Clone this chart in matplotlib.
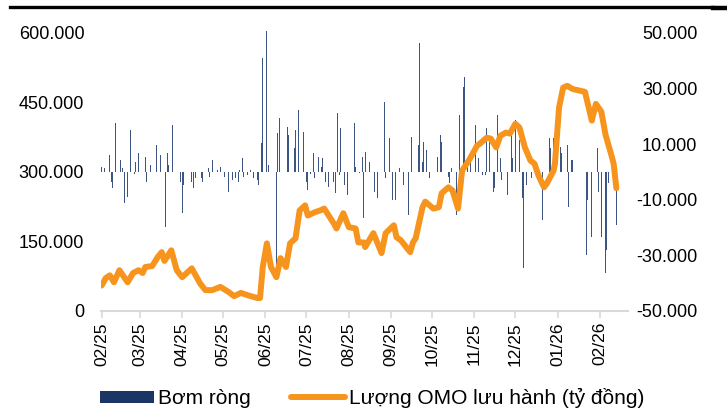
import matplotlib
matplotlib.use("Agg")
import matplotlib.pyplot as plt
from matplotlib.ticker import FuncFormatter, FixedLocator
from matplotlib.lines import Line2D
from matplotlib.patches import Patch
import pandas as pd

plt.rcParams['font.family'] = ['Liberation Sans', 'DejaVu Sans']

# Outstanding OMO volume (left axis)
omo_dates = [
    "2025-02-01", "2025-02-04", "2025-02-07", "2025-02-10", "2025-02-14", "2025-02-20",
    "2025-02-24", "2025-02-28", "2025-03-03", "2025-03-05", "2025-03-10", "2025-03-14",
    "2025-03-17", "2025-03-19", "2025-03-24", "2025-03-28", "2025-04-01", "2025-04-08",
    "2025-04-14", "2025-04-18", "2025-04-23", "2025-04-29", "2025-05-05", "2025-05-09",
    "2025-05-14", "2025-05-19", "2025-05-26", "2025-05-28", "2025-05-30", "2025-06-02",
    "2025-06-05", "2025-06-09", "2025-06-12", "2025-06-16", "2025-06-19", "2025-06-23",
    "2025-06-26", "2025-06-30", "2025-07-02", "2025-07-07", "2025-07-11", "2025-07-14",
    "2025-07-21", "2025-07-23", "2025-07-28", "2025-08-01", "2025-08-06", "2025-08-08",
    "2025-08-12", "2025-08-13", "2025-08-19", "2025-08-25", "2025-08-28", "2025-09-03",
    "2025-09-05", "2025-09-08", "2025-09-11", "2025-09-15", "2025-09-17", "2025-09-19",
    "2025-09-24", "2025-09-26", "2025-10-02", "2025-10-06", "2025-10-08", "2025-10-13",
    "2025-10-16", "2025-10-20", "2025-10-23", "2025-10-28", "2025-11-03", "2025-11-05",
    "2025-11-10", "2025-11-13", "2025-11-17", "2025-11-20", "2025-11-24", "2025-11-27",
    "2025-12-01", "2025-12-04", "2025-12-08", "2025-12-12", "2025-12-15", "2025-12-18",
    "2025-12-22", "2025-12-24", "2025-12-29", "2025-12-30", "2026-01-02", "2026-01-05",
    "2026-01-08", "2026-01-12", "2026-01-21", "2026-01-26", "2026-01-29", "2026-02-02",
    "2026-02-05", "2026-02-09", "2026-02-11", "2026-02-13",
]
omo_outstanding = [
    55000, 71000, 77000, 62000, 88000, 62000,
    82000, 88000, 82000, 95000, 97000, 116000,
    127000, 108000, 131000, 88000, 73000, 92000,
    60000, 45000, 45000, 52000, 41000, 32000,
    39000, 34000, 28000, 28000, 95000, 146000,
    95000, 73000, 114000, 95000, 146000, 157000,
    217000, 228000, 206000, 213000, 217000, 221000,
    189000, 178000, 211000, 181000, 178000, 148000,
    148000, 138000, 168000, 125000, 168000, 185000,
    159000, 153000, 142000, 127000, 148000, 157000,
    224000, 236000, 221000, 224000, 254000, 267000,
    260000, 221000, 303000, 325000, 357000, 361000,
    374000, 372000, 353000, 378000, 385000, 383000,
    404000, 396000, 353000, 325000, 318000, 292000,
    267000, 275000, 303000, 318000, 439000, 482000,
    486000, 479000, 473000, 411000, 447000, 430000,
    381000, 340000, 318000, 265000,
]

# Daily net injection (right axis)
net_dates = [
    "2025-02-01", "2025-02-02", "2025-02-03", "2025-02-05", "2025-02-07", "2025-02-08",
    "2025-02-09", "2025-02-11", "2025-02-13", "2025-02-15", "2025-02-16", "2025-02-18",
    "2025-02-20", "2025-02-21", "2025-02-22", "2025-02-25", "2025-02-26", "2025-02-28",
    "2025-03-01", "2025-03-04", "2025-03-05", "2025-03-06", "2025-03-07", "2025-03-09",
    "2025-03-12", "2025-03-13", "2025-03-15", "2025-03-16", "2025-03-18", "2025-03-20",
    "2025-03-21", "2025-03-22", "2025-03-25", "2025-03-26", "2025-03-29", "2025-03-31",
    "2025-04-01", "2025-04-02", "2025-04-06", "2025-04-08", "2025-04-09", "2025-04-11",
    "2025-04-14", "2025-04-15", "2025-04-16", "2025-04-17", "2025-04-20", "2025-04-21",
    "2025-04-22", "2025-04-23", "2025-04-25", "2025-04-27", "2025-04-28", "2025-04-29",
    "2025-05-02", "2025-05-05", "2025-05-06", "2025-05-08", "2025-05-10", "2025-05-12",
    "2025-05-13", "2025-05-15", "2025-05-16", "2025-05-19", "2025-05-20", "2025-05-21",
    "2025-05-23", "2025-05-25", "2025-05-26", "2025-05-27", "2025-05-29", "2025-05-30",
    "2025-06-02", "2025-06-03", "2025-06-05", "2025-06-09", "2025-06-10", "2025-06-11",
    "2025-06-13", "2025-06-16", "2025-06-17", "2025-06-18", "2025-06-19", "2025-06-22",
    "2025-06-23", "2025-06-25", "2025-06-27", "2025-06-29", "2025-07-01", "2025-07-02",
    "2025-07-04", "2025-07-06", "2025-07-07", "2025-07-08", "2025-07-10", "2025-07-12",
    "2025-07-13", "2025-07-15", "2025-07-16", "2025-07-17", "2025-07-21", "2025-07-22",
    "2025-07-24", "2025-07-25", "2025-07-26", "2025-07-27", "2025-07-29", "2025-07-30",
    "2025-07-31", "2025-08-05", "2025-08-06", "2025-08-09", "2025-08-11", "2025-08-12",
    "2025-08-13", "2025-08-16", "2025-08-18", "2025-08-20", "2025-08-21", "2025-08-22",
    "2025-08-26", "2025-08-27", "2025-08-28", "2025-08-31", "2025-09-01", "2025-09-02",
    "2025-09-04", "2025-09-07", "2025-09-09", "2025-09-10", "2025-09-14", "2025-09-16",
    "2025-09-17", "2025-09-20", "2025-09-21", "2025-09-22", "2025-09-24", "2025-09-25",
    "2025-09-27", "2025-09-29", "2025-10-01", "2025-10-05", "2025-10-06", "2025-10-07",
    "2025-10-08", "2025-10-12", "2025-10-13", "2025-10-14", "2025-10-15", "2025-10-17",
    "2025-10-19", "2025-10-20", "2025-10-21", "2025-10-23", "2025-10-24", "2025-10-25",
    "2025-10-27", "2025-10-29", "2025-10-31", "2025-11-02", "2025-11-03", "2025-11-04",
    "2025-11-07", "2025-11-09", "2025-11-10", "2025-11-12", "2025-11-15", "2025-11-16",
    "2025-11-18", "2025-11-20", "2025-11-21", "2025-11-22", "2025-11-25", "2025-11-28",
    "2025-11-29", "2025-11-30", "2025-12-01", "2025-12-04", "2025-12-06", "2025-12-07",
    "2025-12-08", "2025-12-09", "2025-12-11", "2025-12-13", "2025-12-15", "2025-12-17",
    "2025-12-19", "2025-12-21", "2025-12-22", "2025-12-25", "2025-12-26", "2025-12-27",
    "2025-12-29", "2025-12-30", "2026-01-02", "2026-01-03", "2026-01-04", "2026-01-08",
    "2026-01-09", "2026-01-11", "2026-01-12", "2026-01-22", "2026-01-23", "2026-01-24",
    "2026-01-26", "2026-01-29", "2026-01-30", "2026-01-31", "2026-02-02", "2026-02-05",
    "2026-02-06", "2026-02-07", "2026-02-09", "2026-02-12", "2026-02-13",
]
net_injection = [
    1900, 18700, 1300, 1900, 6100, -3500,
    -5900, 17500, 2500, 4300, 1300, -11300,
    -8900, 700, 15100, -700, 3700, 6700,
    -7700, 12100, 5500, -3500, -2300, 2500,
    3700, 9700, 10300, 6100, 6700, -19700,
    6700, 2500, 16900, -10100, -18500, -3500,
    -14900, -4700, 16900, -3500, -5900, -2300,
    -17300, -2300, -3500, -6500, 1300, -1700,
    1900, 4300, 700, 700, 4000, 1900,
    -1700, -7100, -1100, -2900, -2300, -3500,
    700, 5200, -1700, -1100, -1700, 700,
    -2300, -1700, -2900, -4700, 10300, 40900,
    50700, 2500, -19700, -38000, 13900, 19300,
    -1700, -10700, 16300, 13300, 15100, 8500,
    15100, 22300, 23500, 14500, -3500, -6500,
    -700, 6700, -2300, 1900, 5500, 1900,
    4900, -3500, -5900, -5300, -3500, -7700,
    21100, -1100, 15700, -3500, -4700, -5900,
    -8300, 17500, 1900, -500, 5500, -16700,
    7300, 3700, 14500, -7100, -20300, -9500,
    12100, 25300, -2300, 12100, -1700, -10100,
    -10100, 1300, -1100, -4700, -15500, 12700,
    5500, 3700, 9700, 46300, 3700, 10900,
    7900, -2300, -500, 5500, 9100, 13300,
    10900, 11500, -1700, -4100, 1300, 3100,
    -15500, -19700, 20500, 1300, 30700, 34300,
    2500, 3100, 25300, 16900, 1900, 4900,
    -1100, -1100, 15700, 10900, -7100, -5900,
    20500, 4900, -2900, -2300, -8300, 13300,
    4900, 21100, 18700, 11500, -9500, -34700,
    -3500, -4700, -16100, -2300, 2500, 1900,
    -17300, -17300, 4900, 16900, 12100, 8500,
    12100, 6700, 50700, 9100, 6700, 9700,
    -12500, 4300, 4300, -29900, -10100, -10100,
    -23300, 34900, 8500, -7100, -23300, -36400,
    -28100, -4100, -5900, -39400, -19100,
]

month_ticks = pd.date_range("2025-02-01", "2026-02-01", freq="MS")
left_ticks = [0, 150000, 300000, 450000, 600000]
right_ticks = [-50000, -30000, -10000, 10000, 30000, 50000]

label_bars = "Bơm ròng"
label_line = "Lượng OMO lưu hành (tỷ đồng)"

NAVY = "#1B3564"
BAR_FILL = "#3C5583"
ORANGE = "#F7941D"
AXIS_GREY = "#D9D9D9"
TEXT = "#000000"


def dotted_thousands(v, _pos=None):
    s = f"{abs(int(round(v))):,}".replace(",", ".")
    return ("-" if v < 0 else "") + s


fig = plt.figure(figsize=(7.27, 4.17), dpi=100)
ax = fig.add_axes([0.1389, 0.2542, 0.7249, 0.6667])
ax2 = ax.twinx()

# net injection bars on the right scale (hairline columns, one per day)
bar_x = pd.to_datetime(net_dates)
ax2.bar(bar_x, net_injection, width=0.55, color=BAR_FILL, linewidth=0,
        align="center", clip_on=False)
ax2.set_ylim(-50000, 50000)

# outstanding OMO line on the left scale, drawn above the bars
ax.plot(pd.to_datetime(omo_dates), omo_outstanding, color=ORANGE, lw=4.3,
        solid_joinstyle="round", solid_capstyle="round")
ax.set_ylim(0, 600000)
ax.set_zorder(ax2.get_zorder() + 1)
ax.patch.set_visible(False)

ax.set_xlim(pd.Timestamp("2025-01-31 12:00"), pd.Timestamp("2026-02-21 12:00"))

for a in (ax, ax2):
    for side in ("top", "left", "right"):
        a.spines[side].set_visible(False)
ax.spines["bottom"].set_color(AXIS_GREY)
ax.spines["bottom"].set_linewidth(1.5)
ax2.spines["bottom"].set_visible(False)

ax.xaxis.set_major_locator(FixedLocator([matplotlib.dates.date2num(d) for d in month_ticks]))
ax.set_xticklabels([d.strftime("%m/%y") for d in month_ticks], rotation=90,
                   fontsize=12.5, color=TEXT)
ax.tick_params(axis="x", length=5, width=1.2, color=AXIS_GREY, pad=3)

ax.yaxis.set_major_locator(FixedLocator(left_ticks))
ax.yaxis.set_major_formatter(FuncFormatter(dotted_thousands))
ax.tick_params(axis="y", length=0, pad=12, labelsize=13, labelcolor=TEXT)

ax2.yaxis.set_major_locator(FixedLocator(right_ticks))
ax2.yaxis.set_major_formatter(FuncFormatter(dotted_thousands))
ax2.tick_params(axis="y", length=0, pad=50, labelsize=13, labelcolor=TEXT)
for lbl in ax2.get_yticklabels():
    lbl.set_horizontalalignment("right")

handles = [Patch(facecolor=NAVY, edgecolor="none", label=label_bars),
           Line2D([0], [0], color=ORANGE, lw=4.3, solid_capstyle="round", label=label_line)]
fig.legend(handles=handles, loc="center", bbox_to_anchor=(0.512, 0.045), ncol=2,
           frameon=False, fontsize=15, handlelength=2.6, handleheight=0.55,
           handletextpad=0.2, columnspacing=1.9)

# heavy rule across the top of the page
fig.add_artist(Line2D([0.014, 0.981], [0.984, 0.984], color="black", lw=2.4,
                      transform=fig.transFigure))
fig.add_artist(Line2D([0.981, 1.0], [0.980, 0.980], color="black", lw=3.2,
                      transform=fig.transFigure))

fig.savefig("out.png", dpi=100)
